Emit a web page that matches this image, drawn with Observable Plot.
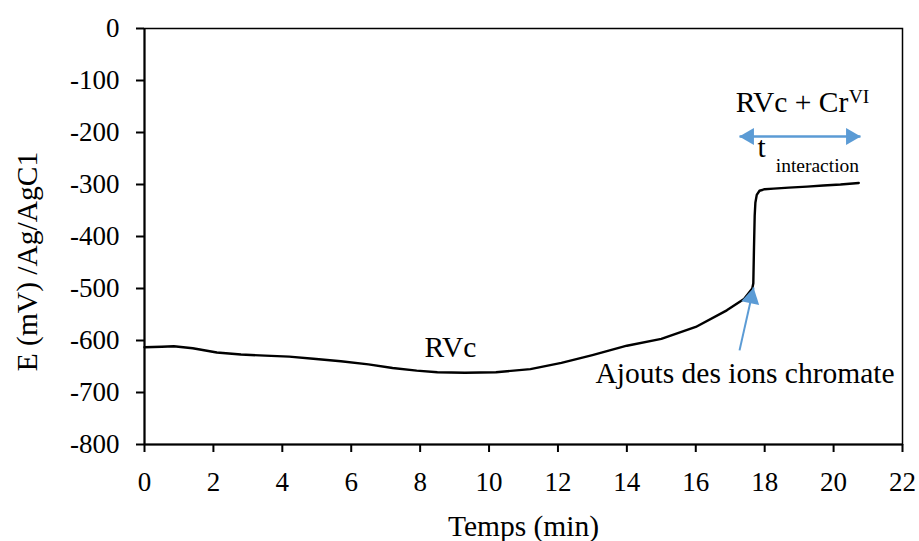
<!DOCTYPE html>
<html>
<head>
<meta charset="utf-8">
<script src="https://cdn.jsdelivr.net/npm/d3@7"></script>
<script src="https://cdn.jsdelivr.net/npm/@observablehq/plot@0.6"></script>
<style>
  html, body { margin: 0; padding: 0; background: white; }
  #chart { width: 919px; height: 541px; }
</style>
</head>
<body>
<div id="chart"></div>
<script>
// Time (min) and potential E (mV vs Ag/AgCl)
const time = [0, 0.5, 0.85, 1.4, 2.1, 2.8, 3.5, 4.2, 4.9, 5.7, 6.5, 7.2, 7.9, 8.5, 9.3, 10.2, 11.2, 12.1, 13.0, 13.5, 14.0, 15.0, 16.0, 16.9, 17.4, 17.64, 17.67, 17.69, 17.71, 17.73, 17.77, 17.85, 18.0, 18.26, 18.7, 19.23, 19.7, 20.2, 20.73];
const potential = [-613, -612, -611, -615, -623, -627, -629, -631, -635, -640, -646, -653, -658, -661, -662, -661, -655, -643, -628, -619, -610, -597, -574, -542, -520, -500, -490, -420, -360, -335, -320, -312, -309, -308, -306, -304, -302, -300, -297];

const xTicks = [0, 2, 4, 6, 8, 10, 12, 14, 16, 18, 20, 22];
const yTicks = [0, -100, -200, -300, -400, -500, -600, -700, -800];
const xDomain = [0, 22];
const yDomain = [-800, 0];

const xTitle = "Temps (min)";
const yTitle = "E (mV) /Ag/AgC1";

// Annotation labels (position in data units)
const centeredLabels = [
  {text: "RVc", x: 8.88, y: -631}
];
const startLabels = [
  {text: "RVc + Cr", x: 17.16, y: -161.5},
  {text: "t", x: 17.79, y: -248},
  {text: "Ajouts des ions chromate", x: 13.09, y: -681}
];
const smallLabels = [
  {text: "VI", x: 20.44, y: -144},
  {text: "interaction", x: 18.32, y: -275}
];

// Blue arrows: double-headed interaction span and "ajouts" pointer
const spanArrow = {x1: 17.27, x2: 20.78, y: -207.7};
const addArrow = {x1: 17.27, y1: -619, x2: 17.68, y2: -498};

const data = time.map((t, i) => ({t, e: potential[i]}));
const blue = "#5B9BD5";
const font = "'Liberation Serif', 'Times New Roman', serif";

const chart = Plot.plot({
  width: 919,
  height: 541,
  marginLeft: 144,
  marginRight: 17,
  marginTop: 28,
  marginBottom: 97,
  style: {fontFamily: font, background: "white", color: "black", overflow: "visible"},
  x: {domain: xDomain},
  y: {domain: yDomain},
  marks: [
    Plot.frame({stroke: "black", strokeWidth: 1.5}),
    Plot.ruleX([xDomain[0]], {stroke: "black", strokeWidth: 2}),
    Plot.ruleY([yDomain[0]], {stroke: "black", strokeWidth: 2}),
    Plot.axisX(xTicks, {tickSize: 8, tickPadding: 19, fontSize: 27, strokeWidth: 2, label: null, tickFormat: d => String(d)}),
    Plot.axisY(yTicks, {tickSize: 8, tickPadding: 17, fontSize: 27, strokeWidth: 2, label: null, tickFormat: d => String(d)}),
    Plot.line(data, {x: "t", y: "e", stroke: "black", strokeWidth: 2.4}),
    // span arrow shaft + heads
    Plot.link([spanArrow], {x1: "x1", x2: "x2", y1: "y", y2: "y", stroke: blue, strokeWidth: 2.5}),
    Plot.dot([spanArrow], {x: "x1", y: "y", symbol: "triangle", r: 6.3, rotate: -90, dx: 9.5, fill: blue, stroke: "none"}),
    Plot.dot([spanArrow], {x: "x2", y: "y", symbol: "triangle", r: 6.3, rotate: 90, dx: -9.5, fill: blue, stroke: "none"}),
    // ajouts arrow
    Plot.link([addArrow], {x1: "x1", y1: "y1", x2: "x2", y2: "y2", stroke: blue, strokeWidth: 2}),
    Plot.dot([addArrow], {x: "x2", y: "y2", symbol: "triangle", r: 6.8, rotate: 12.5, dx: -2.3, dy: 10.5, fill: blue, stroke: "none"}),
    // labels
    Plot.text(centeredLabels, {x: "x", y: "y", text: "text", textAnchor: "middle", lineAnchor: "bottom", fontSize: 29.5, fill: "black"}),
    Plot.text(startLabels, {x: "x", y: "y", text: "text", textAnchor: "start", lineAnchor: "bottom", fontSize: 29.5, fill: "black"}),
    Plot.text(smallLabels, {x: "x", y: "y", text: "text", textAnchor: "start", lineAnchor: "bottom", fontSize: 19.5, fill: "black"}),
    // axis titles
    Plot.text([xTitle], {frameAnchor: "bottom", textAnchor: "middle", dy: 91, lineAnchor: "bottom", fontSize: 29.5, fill: "black"}),
    Plot.text([yTitle], {frameAnchor: "left", textAnchor: "middle", rotate: -90, dx: -117, dy: 25, lineAnchor: "middle", fontSize: 29.5, fill: "black"})
  ]
});
document.getElementById("chart").appendChild(chart);
</script>
</body>
</html>
